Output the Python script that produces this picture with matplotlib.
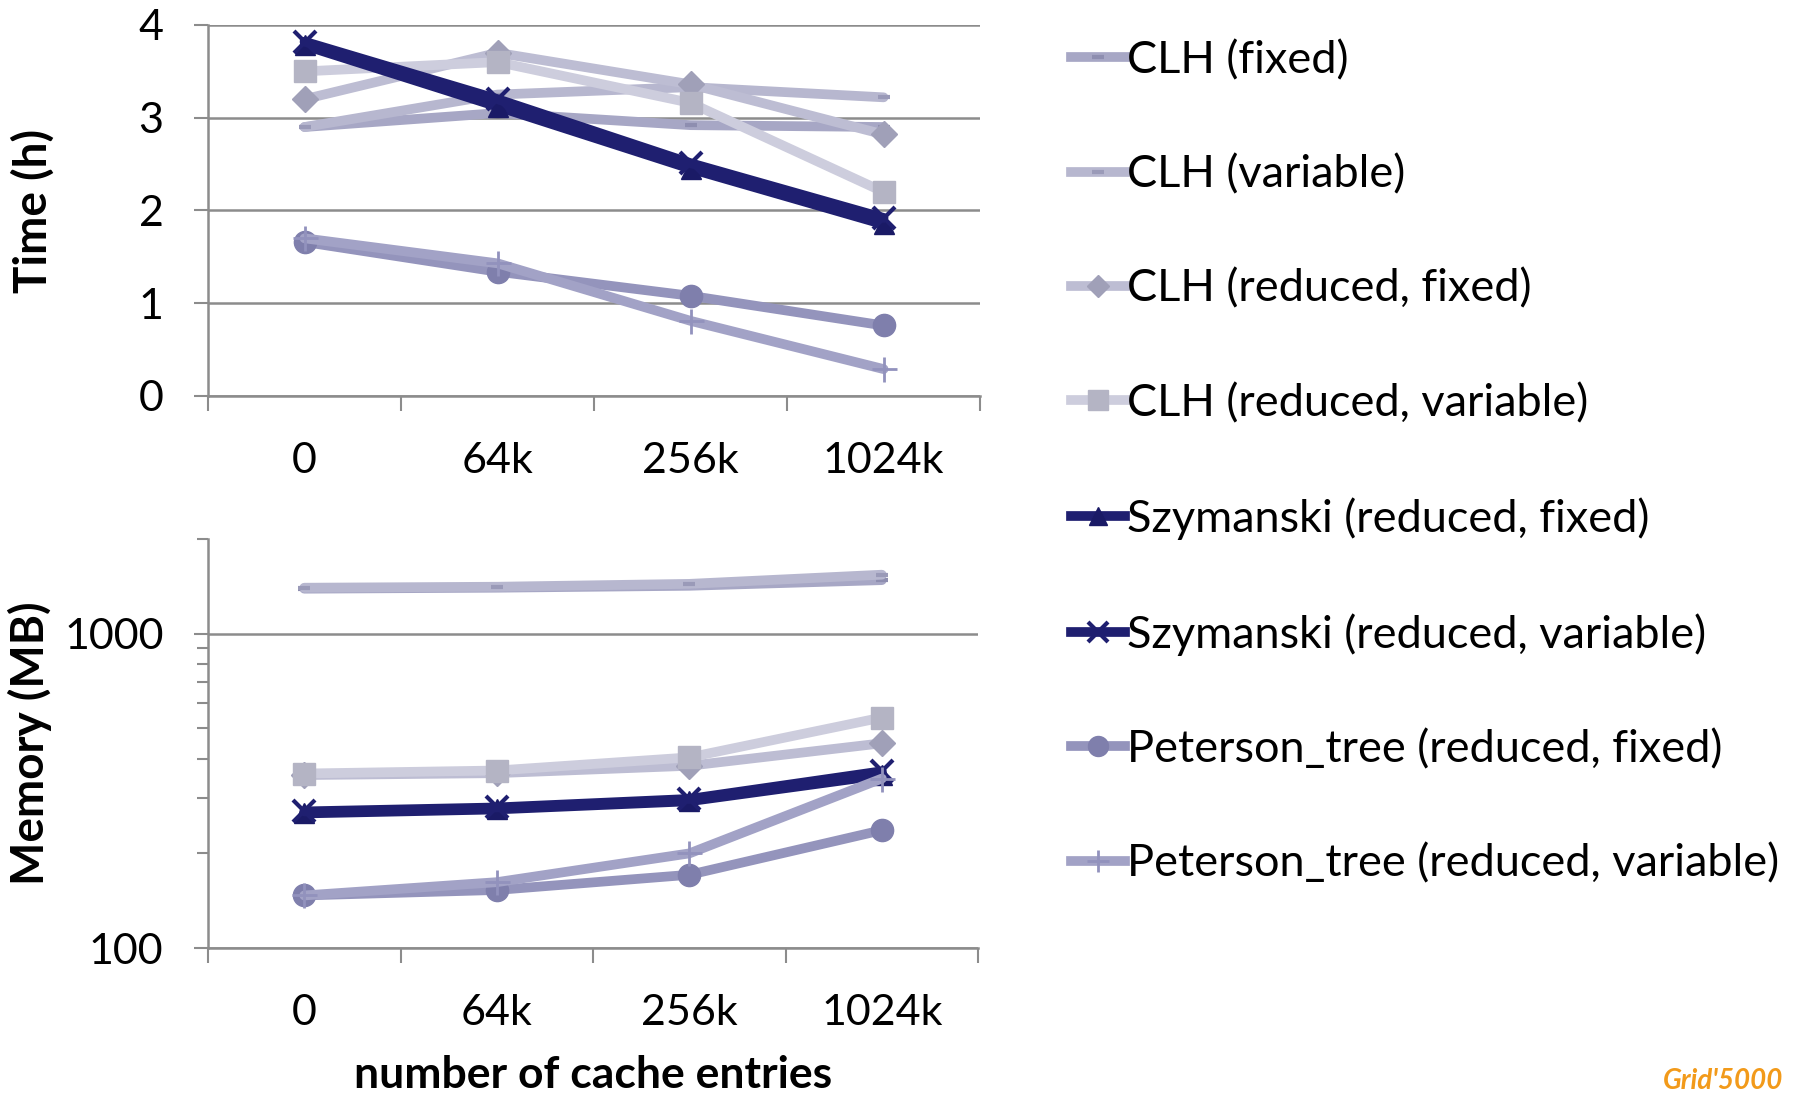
import matplotlib.pyplot as plt
from matplotlib.lines import Line2D
from matplotlib.ticker import FixedLocator, NullFormatter, LogLocator

plt.rcParams['font.family'] = ['Lato', 'DejaVu Sans']

categories = ['0', '64k', '256k', '1024k']

series_names = [
    'CLH (fixed)',
    'CLH (variable)',
    'CLH (reduced, fixed)',
    'CLH (reduced, variable)',
    'Szymanski (reduced, fixed)',
    'Szymanski (reduced, variable)',
    'Peterson_tree (reduced, fixed)',
    'Peterson_tree (reduced, variable)',
]

# time in hours
time_clh_fixed = [2.90, 3.05, 2.92, 2.90]
time_clh_var = [2.90, 3.25, 3.33, 3.22]
time_clh_red_fixed = [3.20, 3.70, 3.36, 2.82]
time_clh_red_var = [3.50, 3.60, 3.16, 2.20]
time_szy_fixed = [3.78, 3.12, 2.45, 1.85]
time_szy_var = [3.82, 3.20, 2.51, 1.92]
time_pet_fixed = [1.66, 1.34, 1.08, 0.76]
time_pet_var = [1.70, 1.43, 0.81, 0.29]

# memory in MB
mem_clh_fixed = [1390, 1400, 1420, 1480]
mem_clh_var = [1400, 1410, 1440, 1540]
mem_clh_red_fixed = [355, 360, 380, 448]
mem_clh_red_var = [359, 367, 404, 541]
mem_szy_fixed = [268, 276, 293, 355]
mem_szy_var = [272, 280, 298, 365]
mem_pet_fixed = [147, 153, 171, 237]
mem_pet_var = [147, 162, 200, 346]

time_data = [time_clh_fixed, time_clh_var, time_clh_red_fixed, time_clh_red_var,
             time_szy_fixed, time_szy_var, time_pet_fixed, time_pet_var]
mem_data = [mem_clh_fixed, mem_clh_var, mem_clh_red_fixed, mem_clh_red_var,
            mem_szy_fixed, mem_szy_var, mem_pet_fixed, mem_pet_var]

line_colors = ['#a7a7c5', '#b7b7cf', '#bdbdd3', '#cdcddd',
               '#1f1f70', '#1f1f70', '#9494bc', '#a2a2c6']
marker_colors = ['#8e8eb0', '#9a9ab8', '#a0a0b8', '#b4b4c4',
                 '#1a1a66', '#1f1f70', '#7f7fac', '#9292bd']
markers = ['_', '_', 'D', 's', '^', 'x', 'o', '+']
msizes = [9, 9, 13, 16, 15, 16, 16, 18]
mews = [3, 3, 1, 1, 1, 3, 1, 2]

grid_col = '#8c8c8c'
x = list(range(len(categories)))

fig = plt.figure(figsize=(17.98, 10.96), dpi=100)
ax_t = fig.add_axes([0.1157, 0.6387, 0.4294, 0.3385])
ax_m = fig.add_axes([0.1157, 0.1350, 0.4283, 0.3732])


def draw(ax, data):
    for vals, lc, mc, mk, ms, mw in zip(data, line_colors, marker_colors, markers, msizes, mews):
        ax.plot(x, vals, color=lc, lw=7, solid_capstyle='round',
                marker=mk, markersize=ms, markerfacecolor=mc,
                markeredgecolor=mc, markeredgewidth=mw, zorder=3)


def style(ax):
    ax.set_xlim(-0.5, 3.5)
    ax.set_xticks(x)
    ax.set_xticklabels(categories, fontsize=31)
    ax.xaxis.set_minor_locator(FixedLocator([-0.5, 0.5, 1.5, 2.5, 3.5]))
    ax.tick_params(axis='x', which='major', length=0, pad=33)
    ax.tick_params(axis='x', which='minor', length=11, width=1.5, color=grid_col)
    ax.tick_params(axis='y', which='both', direction='out', color=grid_col,
                   width=1.5, labelsize=31, pad=22)
    ax.tick_params(axis='y', which='major', length=10)
    for s in ['top', 'right']:
        ax.spines[s].set_visible(False)
    for s in ['left', 'bottom']:
        ax.spines[s].set_color(grid_col)
        ax.spines[s].set_linewidth(1.8)
    ax.grid(axis='y', which='major', color=grid_col, lw=1.8, zorder=0)
    ax.set_axisbelow(True)


draw(ax_t, time_data)
style(ax_t)
ax_t.set_ylim(0, 4)
ax_t.set_yticks([0, 1, 2, 3, 4])
ax_t.set_ylabel('Time (h)', fontsize=33, fontweight='bold')
ax_t.yaxis.set_label_coords(-0.198, 0.5)

draw(ax_m, mem_data)
ax_m.set_yscale('log')
style(ax_m)
ax_m.set_ylim(100, 2000)
ax_m.yaxis.set_major_locator(FixedLocator([100, 1000]))
ax_m.yaxis.set_minor_locator(LogLocator(base=10, subs=range(2, 10)))
ax_m.yaxis.set_minor_formatter(NullFormatter())
ax_m.set_yticklabels(['100', '1000'])
ax_m.tick_params(axis='y', which='minor', length=8)
ax_m.set_ylabel('Memory (MB)', fontsize=33, fontweight='bold')
ax_m.yaxis.set_label_coords(-0.203, 0.5)
ax_m.set_xlabel('number of cache entries', fontsize=32, fontweight='bold')
ax_m.xaxis.set_label_coords(0.5, -0.262)

handles = [Line2D([], [], color=lc, lw=7, marker=mk, markersize=ms * 0.9,
                  markerfacecolor=mc, markeredgecolor=mc, markeredgewidth=mw)
           for lc, mc, mk, ms, mw in zip(line_colors, marker_colors, markers, msizes, mews)]
fig.legend(handles, series_names, loc='upper left', bbox_to_anchor=(0.5855, 0.98),
           frameon=False, fontsize=32.5, handlelength=1.2, handletextpad=0.05,
           labelspacing=1.62, borderaxespad=0)

fig.text(0.925, 0.002, "Grid'5000", fontsize=20, fontweight='bold', style='italic',
         color='#f29a1a', va='bottom')

fig.savefig('out.png', dpi=100)
